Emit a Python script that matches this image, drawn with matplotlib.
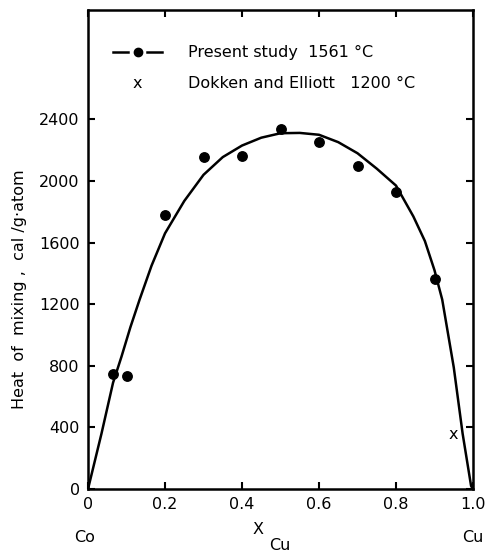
import matplotlib
matplotlib.use("Agg")
import matplotlib.pyplot as plt
from matplotlib.lines import Line2D

# measured points, present study 1561 C
x_present = [0.065, 0.1, 0.2, 0.3, 0.4, 0.5, 0.6, 0.7, 0.8, 0.9]
h_present = [750, 735, 1780, 2157, 2163, 2336, 2254, 2096, 1929, 1365]

# Dokken and Elliott 1200 C
x_dokken = [0.949]
h_dokken = [351]

# smoothed curve
x_curve = [0, 0.035, 0.065, 0.087, 0.11, 0.134, 0.165, 0.2, 0.25, 0.3, 0.35, 0.4, 0.45, 0.5,
           0.55, 0.6, 0.65, 0.7, 0.75, 0.8, 0.845, 0.875, 0.9, 0.92, 0.95, 0.973, 0.995, 1.0]
h_curve = [0, 360, 690, 860, 1050, 1230, 1450, 1660, 1870, 2040, 2155, 2230, 2281, 2310,
           2312, 2300, 2252, 2180, 2080, 1970, 1770, 1610, 1420, 1230, 790, 360, 20, 0]

xticks = [0, 0.2, 0.4, 0.6, 0.8, 1.0]
xtick_labels = ['0', '0.2', '0.4', '0.6', '0.8', '1.0']
yticks = [0, 400, 800, 1200, 1600, 2000, 2400]

plt.rcParams['font.family'] = ['DejaVu Sans']
fig = plt.figure(figsize=(4.92, 5.53), dpi=100)
ax = fig.add_axes([0.1789, 0.1157, 0.7825, 0.8662])

ax.plot(x_curve, h_curve, color='black', lw=1.8)
ax.plot(x_present, h_present, 'o', color='black', ms=6.8)
ax.text(x_dokken[0], h_dokken[0], 'x', fontsize=11.5, ha='center', va='center')

ax.set_xlim(0, 1.0)
ax.set_ylim(0, 3110)
ax.set_xticks(xticks, xtick_labels)
ax.set_yticks(yticks)
ax.tick_params(direction='in', length=5, width=1.5, labelsize=11.5,
               top=True, right=True, pad=6)
for s in ax.spines.values():
    s.set_linewidth(1.8)

# legend drawn by hand
ly = 1 - 52 / 553
for x0, x1 in [(113, 128), (147, 162)]:
    fig.add_artist(Line2D([x0 / 492, x1 / 492], [ly, ly], color='black', lw=1.8,
                          transform=fig.transFigure))
fig.add_artist(Line2D([137.5 / 492], [ly], color='black', marker='o',
                      ms=6, ls='none', transform=fig.transFigure))
fig.text(188 / 492, ly, 'Present study  1561 °C', fontsize=11.5, va='center')
fig.text(137 / 492, 1 - 83 / 553, 'x', fontsize=11.5, va='center', ha='center')
fig.text(188 / 492, 1 - 83 / 553, 'Dokken and Elliott   1200 °C', fontsize=11.5, va='center')

fig.text(20 / 492, 1 - 289 / 553, 'Heat  of  mixing ,  cal /g·atom', fontsize=11.5,
         rotation=90, ha='center', va='center')
fig.text(85 / 492, 1 - 537 / 553, 'Co', fontsize=11.5, ha='center', va='center')
fig.text(473 / 492, 1 - 537 / 553, 'Cu', fontsize=11.5, ha='center', va='center')
fig.text(258 / 492, 1 - 530 / 553, 'X', fontsize=11.5, ha='center', va='center')
fig.text(280 / 492, 1 - 546 / 553, 'Cu', fontsize=11.5, ha='center', va='center')

fig.savefig('out.png', dpi=100)
